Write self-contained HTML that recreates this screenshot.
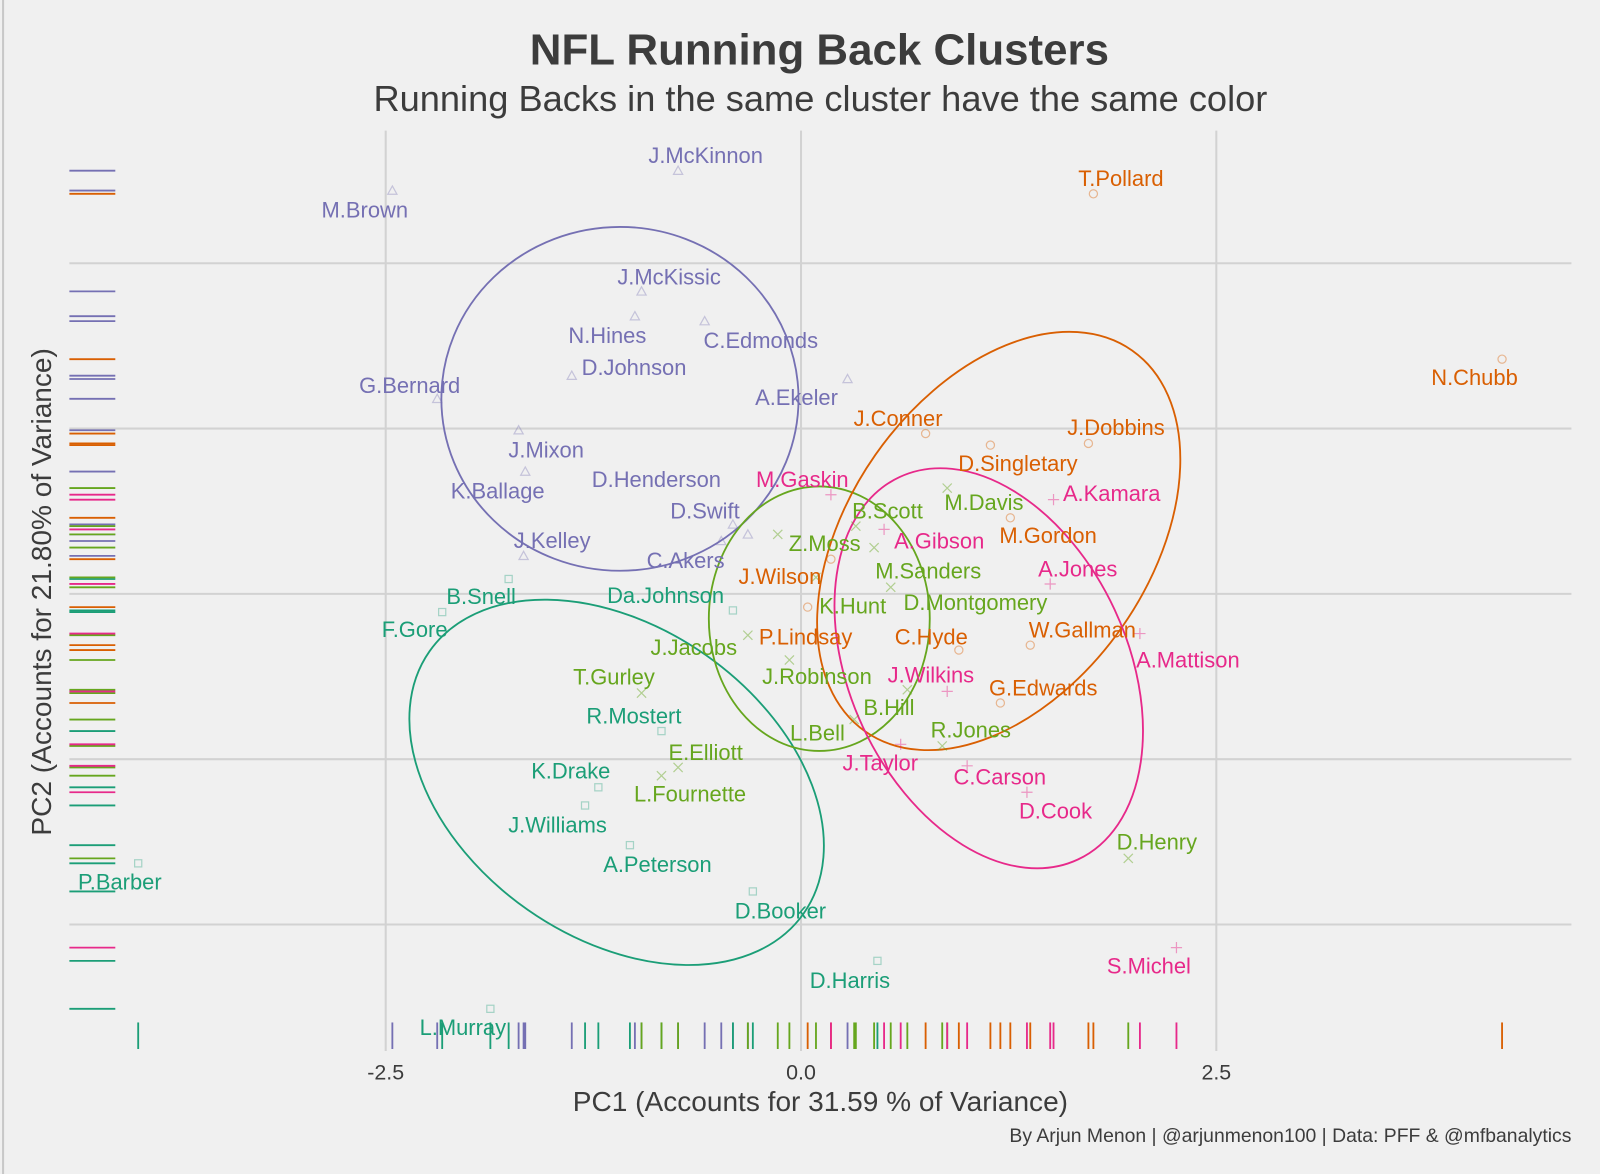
<!DOCTYPE html>
<html><head><meta charset="utf-8">
<style>
html,body{margin:0;padding:0;background:#f0f0f0;}
svg{display:block;font-family:"Liberation Sans",Arial,sans-serif;}
</style></head>
<body>
<svg id="chart" width="1600" height="1174" viewBox="0 0 1568 1150.5" xmlns="http://www.w3.org/2000/svg">
<rect x="0" y="0" width="1568" height="1151" fill="#f0f0f0"/>
<line x1="3" y1="0" x2="3" y2="1151" stroke="#c8c8c8" stroke-width="2"/>
<g id="grid"></g>
<g id="ellipses"></g>
<g id="rugs"></g>
<g id="points"></g>
<g id="labels"></g>
<text x="803" y="63" text-anchor="middle" font-size="43" font-weight="bold" fill="#3c3c3c">NFL Running Back Clusters</text>
<text x="804" y="109" text-anchor="middle" font-size="35.5" fill="#3c3c3c">Running Backs in the same cluster have the same color</text>
<g id="xticks"></g>
<text x="804" y="1089" text-anchor="middle" font-size="27.5" fill="#3c3c3c">PC1 (Accounts for 31.59 % of Variance)</text>
<text transform="translate(50,580) rotate(-90)" text-anchor="middle" font-size="27.5" fill="#3c3c3c">PC2 (Accounts for 21.80% of Variance)</text>
<text x="1540" y="1119" text-anchor="end" font-size="19" fill="#3c3c3c">By Arjun Menon | @arjunmenon100 | Data: PFF &amp; @mfbanalytics</text>
</svg>
<script>
const names=["J.McKinnon","M.Brown","J.McKissic","N.Hines","C.Edmonds","D.Johnson","G.Bernard","A.Ekeler","J.Mixon","K.Ballage","D.Henderson","D.Swift","C.Akers","J.Kelley",
"B.Snell","F.Gore","Da.Johnson","R.Mostert","K.Drake","J.Williams","A.Peterson","D.Booker","P.Barber","D.Harris","L.Murray",
"T.Gurley","J.Jacobs","E.Elliott","L.Fournette","Z.Moss","B.Scott","M.Davis","M.Sanders","D.Montgomery","K.Hunt","J.Robinson","B.Hill","L.Bell","R.Jones","D.Henry",
"T.Pollard","N.Chubb","J.Conner","J.Dobbins","D.Singletary","M.Gordon","J.Wilson","P.Lindsay","C.Hyde","W.Gallman","G.Edwards",
"M.Gaskin","A.Kamara","A.Gibson","A.Jones","A.Mattison","J.Wilkins","J.Taylor","C.Carson","D.Cook","S.Michel"];
const pc1=[-0.74,-2.46,-0.96,-1.00,-0.58,-1.38,-2.19,0.28,-1.70,-1.66,-0.41,-0.32,-0.48,-1.67,
-1.76,-2.16,-0.41,-0.84,-1.22,-1.30,-1.03,-0.29,-3.99,0.46,-1.87,
-0.96,-0.32,-0.74,-0.84,-0.14,0.33,0.88,0.44,0.54,0.09,-0.07,0.64,0.32,0.85,1.97,
1.76,4.22,0.75,1.73,1.14,1.26,0.18,0.04,0.95,1.38,1.20,
0.18,1.52,0.50,1.50,2.04,0.88,0.60,1.00,1.36,2.26];
const pc2=[2.56,2.44,1.83,1.68,1.65,1.32,1.18,1.30,0.99,0.74,0.42,0.36,0.32,0.23,
0.09,-0.11,-0.10,-0.83,-1.17,-1.28,-1.52,-1.80,-1.63,-2.22,-2.51,
-0.60,-0.25,-1.05,-1.10,0.36,0.41,0.64,0.28,0.04,0.10,-0.40,-0.58,-0.76,-0.92,-1.60,
2.42,1.42,0.97,0.91,0.90,0.46,0.21,-0.08,-0.34,-0.31,-0.66,
0.60,0.57,0.39,0.06,-0.24,-0.59,-0.91,-1.04,-1.20,-2.14];
const cluster=[1,1,1,1,1,1,1,1,1,1,1,1,1,1, 2,2,2,2,2,2,2,2,2,2,2, 3,3,3,3,3,3,3,3,3,3,3,3,3,3,3, 4,4,4,4,4,4,4,4,4,4,4, 5,5,5,5,5,5,5,5,5,5];
const xTicks=[-2.5,0.0,2.5];
const yGrid=[2,1,0,-1,-2];
const ellCx=[-1.09,-1.11,0.11,1.19,1.13];
const ellCy=[1.18,-1.14,-0.15,0.32,-0.45];
const ellRx=[1.075,1.375,0.665,1.40,1.27];
const ellRy=[1.04,0.94,0.80,0.91,0.84];
const ellRot=[0,35,0,-55,65];

const dx=[27,-27,27,-27,55,61,-27,-50,27,-27,-75,-42,-35,28, -27,-27,-66,-27,-27,-27,27,27,-18,-27,-27,
-27,-53,27,28,46,31,36,53,83,36,27,-18,-36,28,28, 27,-27,-27,27,27,37,-50,-2,-27,51,42,
-28,57,54,27,47,-16,-20,32,28,-27];
const dy=[-15,19,-14,19,19,-8,-13,18,19,19,-44,-23,19,-15, 17,17,-15,-15,-16,19,19,19,18,19,18,
-16,12,-15,18,9,-15,14,23,15,28,16,17,13,-16,-16, -15,18,-15,-16,18,17,17,29,-13,-15,-15,
-15,-6,11,-15,26,-16,18,11,18,18];
const colors={1:"#7570b3",2:"#1b9e77",3:"#66a61e",4:"#d95f02",5:"#e7298a"};
const NS="http://www.w3.org/2000/svg";
const X0=785,SX=162.8,Y0=582,SY=162;
const xs=v=>X0+v*SX, ys=v=>Y0-v*SY;
const L=68,R=1540,T=128,B=1030;
function mk(tag,attrs,parent){const e=document.createElementNS(NS,tag);for(const k in attrs)e.setAttribute(k,attrs[k]);parent.appendChild(e);return e;}
const grid=document.getElementById('grid');
yGrid.forEach(v=>{const l=mk('line',{x1:L,x2:R,y1:ys(v),y2:ys(v),stroke:'#d2d2d2','stroke-width':2},grid);

});
const xt=document.getElementById('xticks');
xTicks.forEach(v=>{const l=mk('line',{x1:xs(v),x2:xs(v),y1:T,y2:B,stroke:'#d2d2d2','stroke-width':2},grid);


const t=mk('text',{x:xs(v),y:1058,'text-anchor':'middle','font-size':21,fill:'#3c3c3c'},xt);
t.textContent=v.toFixed(1);

});
const eg=document.getElementById('ellipses');
ellCx.forEach((c,i)=>{const e=mk('ellipse',{cx:xs(c),cy:ys(ellCy[i]),rx:ellRx[i]*SX,ry:ellRy[i]*SY,fill:'none',stroke:colors[i+1],'stroke-width':1.8,transform:`rotate(${ellRot[i]} ${xs(c)} ${ys(ellCy[i])})`},eg);

});
const rg=document.getElementById('rugs'),pg=document.getElementById('points'),lg=document.getElementById('labels');
names.forEach((n,i)=>{
 const c=colors[cluster[i]],px=xs(pc1[i]),py=ys(pc2[i]);
 const r1=mk('line',{x1:68,x2:113,y1:py,y2:py,stroke:c,'stroke-width':1.8},rg);
 
 
 const r2=mk('line',{x1:px,x2:px,y1:1002,y2:1028,stroke:c,'stroke-width':1.8},rg);
 
 
 const k=cluster[i];let m;const s=4.5;
 if(k===1)m=mk('path',{d:`M${px} ${py-s} L${px+s} ${py+s*0.8} L${px-s} ${py+s*0.8}Z`,fill:'none',stroke:c,'stroke-opacity':0.35,'stroke-width':1.2},pg);
 else if(k===2)m=mk('rect',{x:px-s+1,y:py-s+1,width:2*s-2,height:2*s-2,fill:'none',stroke:c,'stroke-opacity':0.35,'stroke-width':1.2},pg);
 else if(k===3)m=mk('path',{d:`M${px-s} ${py-s}L${px+s} ${py+s}M${px+s} ${py-s}L${px-s} ${py+s}`,stroke:c,'stroke-opacity':0.45,'stroke-width':1.2},pg);
 else if(k===4)m=mk('circle',{cx:px,cy:py,r:s-0.5,fill:'none',stroke:c,'stroke-opacity':0.4,'stroke-width':1.2},pg);
 else m=mk('path',{d:`M${px-s-1} ${py}L${px+s+1} ${py}M${px} ${py-s-1}L${px} ${py+s+1}`,stroke:c,'stroke-opacity':0.45,'stroke-width':1.2},pg);
 
 
 const t=mk('text',{x:px+dx[i],y:py+dy[i]+7.5,'text-anchor':'middle','font-size':21.5,fill:c},lg);
 t.textContent=n;
 
 
});
</script>
</body></html>
